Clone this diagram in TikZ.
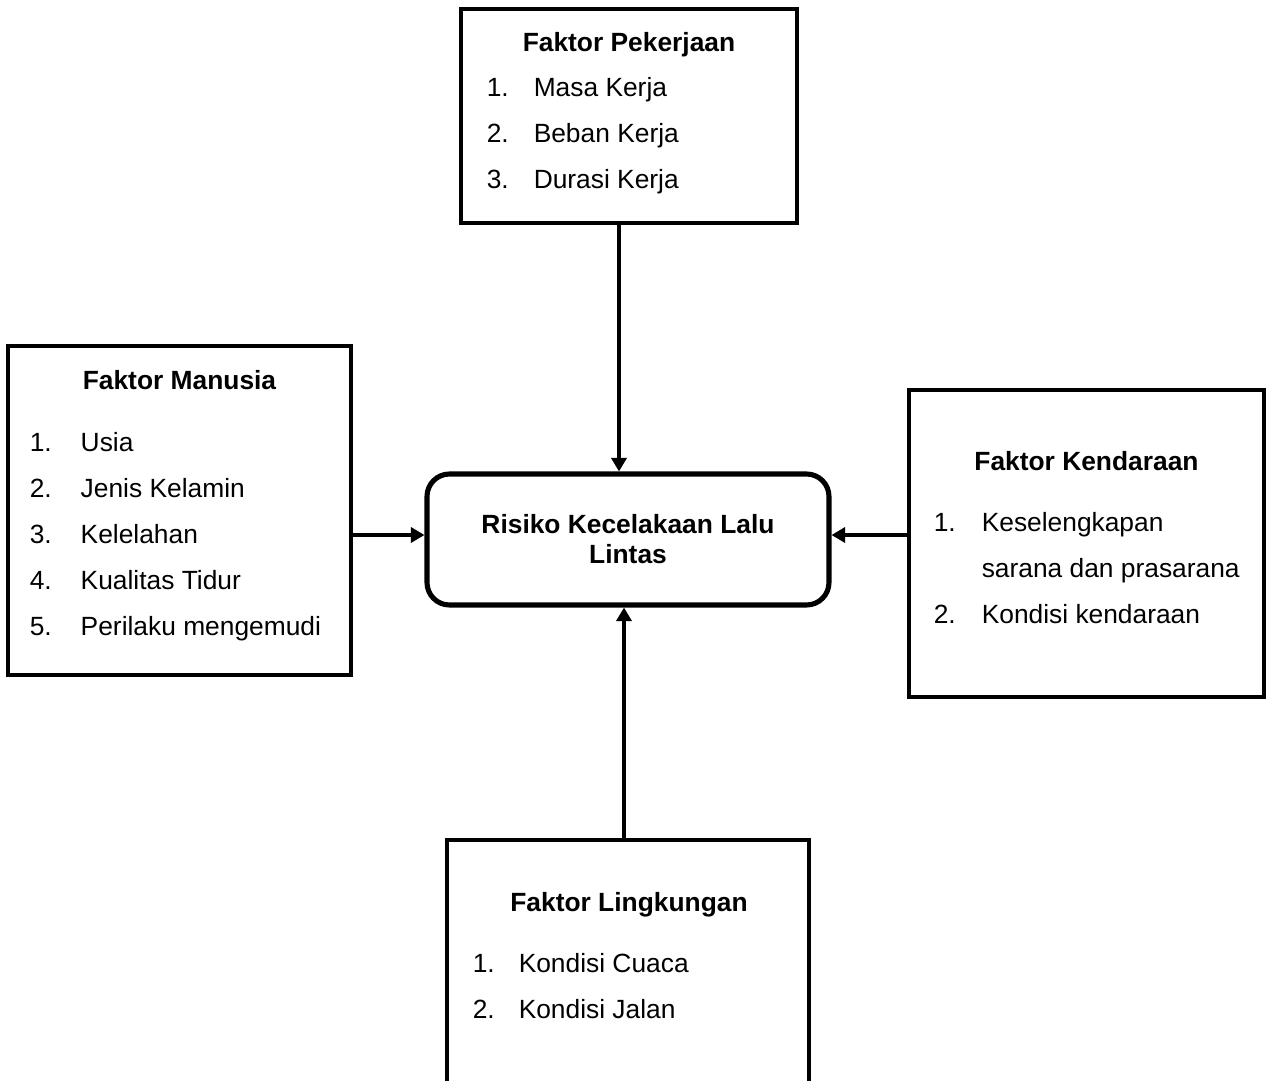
\documentclass[tikz,border=0pt]{standalone}
\usepackage{fontspec}
\setmainfont{Liberation Sans}
\usetikzlibrary{arrows.meta}

\newcommand{\listfont}{\fontsize{15}{26.2}\selectfont}

\begin{document}
\begin{tikzpicture}[
  line width=2pt,
  factorbox/.style={draw, inner sep=0pt},
  title/.style={font=\bfseries\listfont, anchor=base, inner sep=0pt},
  itemlist/.style={font=\listfont, anchor=base west, inner sep=0pt},
  arr/.style={-{Triangle[length=0.27cm,width=0.3cm]}, line width=2pt}
]
  \path[use as bounding box, clip] (0,0) rectangle (25.42,-21.62);

  % outer factor boxes
  \node[factorbox, minimum width=6.72cm, minimum height=4.28cm] (pek) at (12.58,-2.32) {};
  \node[factorbox, minimum width=6.86cm, minimum height=6.58cm] (man) at (3.59,-10.21) {};
  \node[factorbox, minimum width=7.10cm, minimum height=6.14cm] (ken) at (21.73,-10.87) {};
  \node[factorbox, minimum width=7.24cm, minimum height=5.60cm] (ling) at (12.56,-19.60) {};

  % middle box
  \node[
    draw,
    rounded corners=0.45cm,
    line width=2.9pt,
    minimum width=8.04cm,
    minimum height=2.62cm,
    align=center,
    font=\bfseries\fontsize{15}{17}\selectfont
  ] (risk) at (12.56,-10.79) {Risiko Kecelakaan Lalu\\Lintas};

  % titles
  \node[title] (pekT) at (12.58,-1.02) {Faktor Pekerjaan};
  \node[title] (manT) at (3.59,-7.78) {Faktor Manusia};
  \node[title] (kenT) at (21.73,-9.40) {Faktor Kendaraan};
  \node[title] (lingT) at (12.58,-18.22) {Faktor Lingkungan};

  % lists
  \node[itemlist] (pekL) at (9.70,-1.92) {
    \begin{tabular}[t]{@{}p{0.94cm}@{}l@{}}
      1. & Masa Kerja \\
      2. & Beban Kerja \\
      3. & Durasi Kerja \\
    \end{tabular}
  };
  \node[itemlist] (manL) at (0.56,-9.02) {
    \begin{tabular}[t]{@{}p{1.02cm}@{}l@{}}
      1. & Usia \\
      2. & Jenis Kelamin \\
      3. & Kelelahan \\
      4. & Kualitas Tidur \\
      5. & Perilaku mengemudi \\
    \end{tabular}
  };
  \node[itemlist] (kenL) at (18.64,-10.62) {
    \begin{tabular}[t]{@{}p{0.96cm}@{}l@{}}
      1. & Keselengkapan \\
         & sarana dan prasarana \\
      2. & Kondisi kendaraan \\
    \end{tabular}
  };
  \node[itemlist] (lingL) at (9.42,-19.44) {
    \begin{tabular}[t]{@{}p{0.92cm}@{}l@{}}
      1. & Kondisi Cuaca \\
      2. & Kondisi Jalan \\
    \end{tabular}
  };

  % arrows into the middle box
  \draw[arr] ([xshift=-0.18cm]risk.north |- pek.south) -- ([xshift=-0.18cm]risk.north);
  \draw[arr] ([xshift=-0.08cm]risk.south |- ling.north) -- ([xshift=-0.08cm]risk.south);
  \draw[arr] ([xshift=-0.06cm,yshift=0.09cm]risk.west -| man.east) -- ([yshift=0.09cm]risk.west);
  \draw[arr] ([yshift=0.09cm]risk.east -| ken.west) -- ([yshift=0.09cm]risk.east);
\end{tikzpicture}
\end{document}
